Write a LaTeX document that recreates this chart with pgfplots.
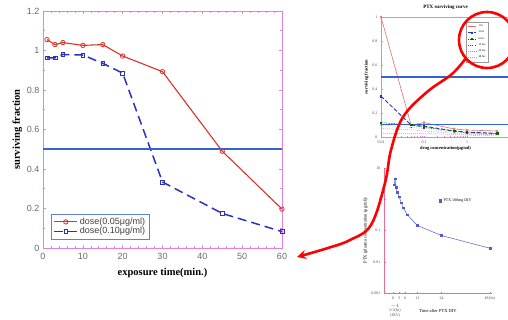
\documentclass[border=0pt]{standalone}
\usepackage{fontspec}
\setmainfont{Liberation Serif}
\newfontfamily\arial{Liberation Sans}
\usepackage{pgfplots}
\pgfplotsset{compat=1.18}
\usetikzlibrary{arrows.meta}
\definecolor{frame}{RGB}{225,130,225}
\definecolor{pinkax}{RGB}{230,110,150}
\definecolor{dred}{RGB}{220,50,40}
\definecolor{dblue}{RGB}{40,50,190}
\definecolor{hblue}{RGB}{50,100,210}
\definecolor{tickgray}{RGB}{105,105,105}
\begin{document}
\begin{tikzpicture}
\useasboundingbox (0pt,0pt) rectangle (508pt,319pt);
\clip (0pt,0pt) rectangle (508pt,319pt);
% ---------------- main chart ----------------
\begin{axis}[at={(43pt,71pt)}, anchor=south west, scale only axis,
  width=239pt, height=237pt,
  xmin=0, xmax=60, ymin=0, ymax=1.2,
  xtick={0,10,20,30,40,50,60}, ytick={0,0.2,0.4,0.6,0.8,1,1.2},
  minor x tick num=4, minor y tick num=1,
  axis line style={frame, line width=0.8pt},
  every tick/.style={frame, line width=0.6pt},
  major tick length=3pt, minor tick length=1.6pt,
  /pgf/number format/assume math mode=true,
  ticklabel style={font=\arial\fontsize{9}{10}\selectfont, text=tickgray},
  xticklabel style={yshift=-2pt},
  xlabel={\bfseries exposure time(min.)},
  ylabel={\bfseries surviving fraction},
  label style={font=\fontsize{10.5}{12}\selectfont},
  xlabel style={yshift=-1pt},
  ylabel style={yshift=-2pt},
  legend style={at={(0.035,0.035)}, anchor=south west, draw=hblue!80, line width=0.6pt,
    font=\arial\fontsize{9}{10}\selectfont, text=black!75, inner sep=2pt,
    row sep=-2.5pt},
  legend image code/.code={\draw[mark repeat=2,mark phase=2] plot coordinates {(0cm,0cm)(0.4cm,0cm)(0.8cm,0cm)};},
  legend cell align=left,
  clip=false]
\addplot[color=dred, line width=1.1pt, mark=o, mark size=2.2pt, mark options={solid, line width=0.8pt}]
  coordinates {(1,1.055)(3,1.03)(5,1.04)(10,1.026)(15,1.03)(20,0.972)(30,0.893)(45,0.49)(60,0.197)};
\addlegendentry{dose(0.05μg/ml)}
\addplot[color=dblue, line width=1.5pt, dash pattern=on 9pt off 5pt, mark=square, mark size=1.9pt, mark options={solid, line width=0.7pt}]
  coordinates {(1,0.963)(3,0.963)(5,0.98)(10,0.977)(15,0.935)(20,0.885)(30,0.334)(45,0.175)(60,0.083)};
\addlegendentry{dose(0.10μg/ml)}
\addplot[color=hblue, line width=1.8pt, forget plot] coordinates {(0,0.5)(60,0.5)};
\end{axis}
% ---------------- top inset ----------------
\begin{axis}[at={(381pt,182pt)}, anchor=south west, scale only axis,
  width=129pt, height=120pt,
  xmode=log, xmin=0.01, xmax=10, ymin=0, ymax=1,
  xtick={0.01,0.1,1}, xticklabels={0.01,0.1,1},
  ytick={0,0.2,0.4,0.6,0.8,1}, yticklabels={0,0.2,0.4,0.6,0.8,1},
  axis line style={frame, line width=0.6pt},
  every tick/.style={frame, line width=0.3pt},
  major tick length=1.5pt, minor tick length=0.8pt,
  ticklabel style={font=\fontsize{4}{4.5}\selectfont, text=black!70},
  title={\bfseries PTX surviving curve},
  title style={font=\fontsize{5}{6}\selectfont, yshift=-2pt},
  xlabel={\bfseries drug concentration(μg/ml)},
  ylabel={\bfseries surviving fraction},
  label style={font=\fontsize{4.5}{5}\selectfont},
  xlabel style={yshift=4pt}, ylabel style={yshift=-3pt},
  legend style={at={(0.66,0.96)}, anchor=north west, draw=black!40, line width=0.3pt,
    font=\fontsize{2.8}{3}\selectfont, inner sep=0.8pt, row sep=-1.2pt},
  legend cell align=left, legend image post style={scale=0.5}]
\addplot[color=dred!70, line width=0.6pt, mark=o, mark size=1pt]
  coordinates {(0.01,1.0)(0.05,0.1)(0.1,0.12)(0.5,0.067)(1,0.058)(5,0.05)};
\addlegendentry{1 hr}
\addplot[color=dblue, line width=0.9pt, dash pattern=on 4pt off 2pt, mark=square*, mark size=0.8pt, mark options={solid}]
  coordinates {(0.01,0.34)(0.05,0.1)(0.1,0.09)(0.5,0.05)(1,0.04)(5,0.03)};
\addlegendentry{3 hrs}
\addplot[color=green!40!black, line width=0.5pt, dash pattern=on 1.5pt off 1pt, mark=square*, mark size=0.7pt, mark options={solid}]
  coordinates {(0.01,0.12)(0.05,0.1)(0.1,0.08)(0.5,0.05)(1,0.035)(5,0.03)};
\addlegendentry{6 hrs}
\addplot[color=black!70, line width=0.4pt, dotted, mark=*, mark size=0.6pt]
  coordinates {(0.01,0.1)(0.05,0.08)(0.1,0.07)(0.5,0.04)(1,0.03)(5,0.02)};
\addlegendentry{12 hrs}
\addplot[color=magenta!60, line width=0.4pt, dash pattern=on 1pt off 1pt]
  coordinates {(0.01,0.07)(0.05,0.06)(0.1,0.05)(0.5,0.03)(1,0.02)(5,0.02)};
\addlegendentry{24 hrs}
\addplot[color=cyan!70, line width=0.4pt, dash pattern=on 1pt off 1pt]
  coordinates {(0.01,0.03)(0.05,0.03)(0.1,0.03)(0.5,0.02)(1,0.015)(5,0.01)};
\addlegendentry{48 hrs}
\addplot[color=hblue, line width=1.4pt, forget plot] coordinates {(0.01,0.5)(10,0.5)};
\addplot[color=hblue, line width=0.5pt, forget plot] coordinates {(0.01,0.11)(10,0.11)};
\end{axis}
% ---------------- bottom inset ----------------
\begin{axis}[at={(384pt,26pt)}, anchor=south west, scale only axis,
  width=108pt, height=125pt,
  ymode=log, ymin=0.001, ymax=10, xmin=-4.5, xmax=49,
  axis lines*=left,
  axis line style={pinkax, line width=0.7pt},
  every tick/.style={pinkax, line width=0.3pt},
  major tick length=1.5pt, minor tick length=0.8pt,
  ytick={0.001,0.01,0.1,1,10}, yticklabels={0.001,0.01,0.1,1,10},
  xtick={0,3,6,12,24,48}, xticklabels={0,3,6,12,24,48\,(hr)},
  ticklabel style={font=\fontsize{4}{4.5}\selectfont, text=black!70},
  xlabel={Time after PTX DIV},
  ylabel={PTX (plasma concentration (μg/ml))},
  label style={font=\fontsize{4.5}{5}\selectfont},
  xlabel style={yshift=-2pt}, ylabel style={yshift=-3pt},
  legend style={at={(0.48,0.74)}, anchor=west, draw=none, fill=none,
    font=\fontsize{4}{4.5}\selectfont},
  clip=false]
\addplot[color=dblue!80, line width=0.5pt, mark=square*, mark size=0.8pt, forget plot]
  coordinates {(0.5,2.9)(1,4.5)(1.5,2.4)(2,1.7)(3,1.2)(4,0.78)(5,0.54)(7,0.32)(12,0.145)(24,0.069)(48,0.027)};
\addlegendimage{only marks, mark=square*, color=dblue!80, mark size=1.3pt}
\addlegendentry{PTX 180mg DIV}
\node[font=\fontsize{4}{4.5}\selectfont, text=black!70, align=center] at (axis cs:1,0.00028) {$-1$\\0\;3(hr)\\(DIV)};
\end{axis}
% ---------------- annotation ----------------
\begin{scope}[x=1pt,y=1pt]
\draw[red, line width=2.6pt] (487,279) circle (28);
\draw[red, line width=2.6pt, -{Stealth[length=9pt,width=9pt]}]
  plot[smooth, tension=0.6] coordinates {(466,261)(452,245)(427,227)(403,202)(391,169)(385,136)(371,94)(350,79)(328,71)(297,62)};
\end{scope}
\end{tikzpicture}
\end{document}
